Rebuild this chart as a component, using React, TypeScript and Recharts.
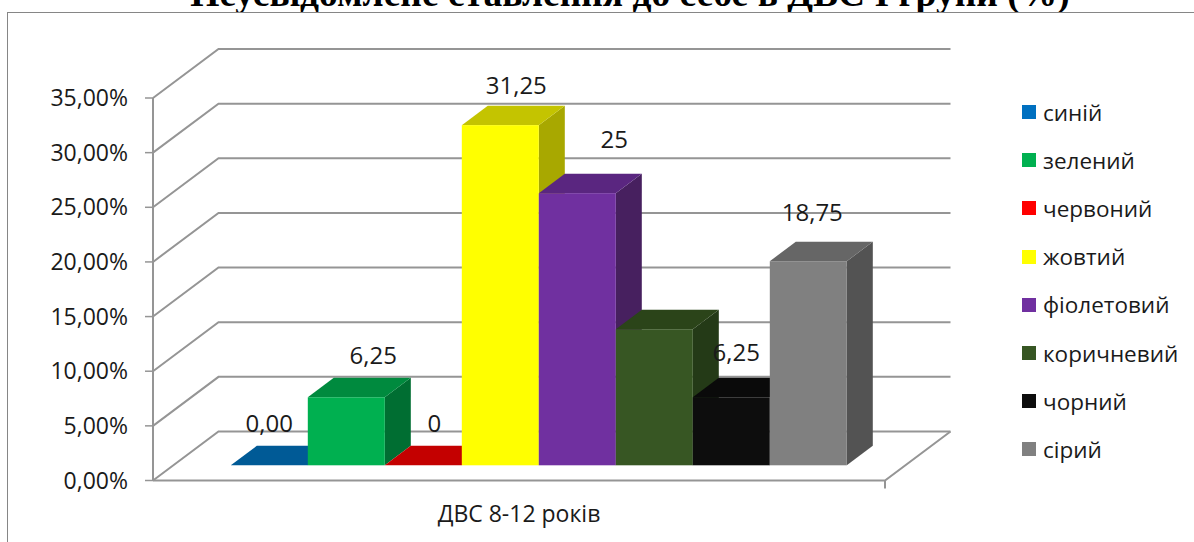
import { BarChart, Bar, XAxis, YAxis, CartesianGrid, Legend, LabelList } from 'recharts';

const CATEGORIES = ['ДВС 8-12 років'];
const SERIES_NAMES = ['синій', 'зелений', 'червоний', 'жовтий', 'фіолетовий', 'коричневий', 'чорний', 'сірий'];
const SERIES_VALUES = [0, 6.25, 0, 31.25, 25, 12.5, 6.25, 18.75];
const SERIES_LABELS = ['0,00', '6,25', '0', '31,25', '25', '', '6,25', '18,75'];
const Y_TICKS = [0, 5, 10, 15, 20, 25, 30, 35];

const FRONT_COLORS = ['#0070C0', '#00B050', '#FF0000', '#FFFF00', '#7030A0', '#375623', '#0D0D0D', '#808080'];
const TOP_COLORS = ['#005A96', '#008A3E', '#C40000', '#C4C400', '#5A2680', '#2B4419', '#0A0A0A', '#666666'];
const SIDE_COLORS = ['#004A7C', '#006E32', '#A60000', '#A8A800', '#47205F', '#243A17', '#080808', '#535353'];

// where each value label sits relative to the top centre of its bar
const LABEL_NUDGE = [[0, -43], [27, -43], [11, -43], [16, -41], [37, -55], [0, 0], [5, -46], [4, -50]];

const FONT = '"Open Sans", sans-serif';
const TEXT_SIZE = 22.5;
const AXIS_TEXT_SIZE = 23;
const VALUE_TEXT_SIZE = 24;
const GRID_COLOR = '#959595';

// depth of the whole box, and of the bars standing in the middle of its floor
const WALL_DX = 65.5;
const WALL_DY = 49;
const FLOOR_DX = 20.3;
const FLOOR_DY = 15.2;
const BAR_DX = 26;
const BAR_DY = 19.5;
const BAR_FORESHORTEN = 0.996;

const chartRow: Record<string, string | number> = { category: CATEGORIES[0] };
SERIES_NAMES.forEach((name, i) => {
  chartRow[name] = SERIES_VALUES[i];
});
const chartData = [chartRow];

const axisPercent = (v: number) => `${v.toFixed(2).replace('.', ',')}%`;

function WallLine(props: any) {
  const { x1, x2, y1, index } = props;
  const isFloor = index === 0;
  return (
    <g fill="none" stroke={GRID_COLOR} strokeWidth={2}>
      <path d={`M${x1},${y1}L${x1 + WALL_DX},${y1 - WALL_DY}L${x2 + WALL_DX},${y1 - WALL_DY}`} />
      {isFloor && (
        <path d={`M${x1},${y1}L${x2},${y1}L${x2 + WALL_DX},${y1 - WALL_DY}M${x2},${y1}v8`} />
      )}
    </g>
  );
}

function Bar3D(props: any) {
  const { x, y, width, height, seriesIndex } = props;
  const h = height * BAR_FORESHORTEN;
  const left = x + FLOOR_DX;
  const right = left + width;
  const bottom = y + height - FLOOR_DY;
  const top = bottom - h;
  return (
    <g>
      <path
        d={`M${right},${bottom}L${right + BAR_DX},${bottom - BAR_DY}L${right + BAR_DX},${top - BAR_DY}L${right},${top}Z`}
        fill={SIDE_COLORS[seriesIndex]}
      />
      <path
        d={`M${left},${top}L${left + BAR_DX},${top - BAR_DY}L${right + BAR_DX},${top - BAR_DY}L${right},${top}Z`}
        fill={TOP_COLORS[seriesIndex]}
      />
      {h > 0 && <rect x={left} y={top} width={width} height={h} fill={FRONT_COLORS[seriesIndex]} />}
    </g>
  );
}

function ValueLabel(props: any) {
  const { x, y, width, seriesIndex } = props;
  const text = SERIES_LABELS[seriesIndex];
  if (!text) return null;
  const [nx, ny] = LABEL_NUDGE[seriesIndex];
  const height = props.height ?? 0;
  const top = y + height - FLOOR_DY - height * BAR_FORESHORTEN;
  return (
    <text
      x={x + FLOOR_DX + width / 2 + nx}
      y={top + ny}
      textAnchor="middle"
      dominantBaseline="central"
      fontFamily={FONT}
      fontSize={VALUE_TEXT_SIZE}
      fill="#1A1A1A"
    >
      {text}
    </text>
  );
}

function LegendList({ payload }: any) {
  return (
    <ul style={{ listStyle: 'none', margin: 0, padding: 0, paddingLeft: 137 }}>
      {(payload ?? []).map((entry: any) => (
        <li key={entry.value} style={{ display: 'flex', alignItems: 'center', height: 48.2 }}>
          <span style={{ width: 14, height: 14, background: entry.color, marginRight: 7, flex: 'none' }} />
          <span style={{ fontFamily: FONT, fontSize: TEXT_SIZE, color: '#1A1A1A', whiteSpace: 'nowrap' }}>{entry.value}</span>
        </li>
      ))}
    </ul>
  );
}

export default function App() {
  return (
    <div style={{ position: 'absolute', left: 0, top: 0, width: 1194, height: 542, overflow: 'hidden', background: '#fff' }}>
      <div
        style={{
          position: 'absolute',
          left: 0,
          top: -25,
          width: 1260,
          textAlign: 'center',
          fontFamily: '"Liberation Serif", serif',
          fontWeight: 'bold',
          fontSize: 37.5,
          lineHeight: 1,
          color: '#000',
          whiteSpace: 'nowrap',
        }}
      >
        Неусвідомлене ставлення до себе в ДВС І групи (%)
      </div>
      <div
        style={{
          position: 'absolute',
          left: 7,
          top: 12,
          width: 1300,
          height: 700,
          background: '#fff',
          border: '1.5px solid #868686',
        }}
      />
      <BarChart
        width={1194}
        height={542}
        data={chartData}
        margin={{ top: 98, right: 0, bottom: 0, left: 0 }}
        barCategoryGap={57.5}
        barGap={0}
        style={{ position: 'absolute', left: 0, top: 0 }}
      >
        <CartesianGrid vertical={false} horizontal={(p: any) => <WallLine {...p} />} />
        <XAxis
          dataKey="category"
          height={61.5}
          axisLine={false}
          tickLine={false}
          tickMargin={19}
          tick={{ fontFamily: FONT, fontSize: AXIS_TEXT_SIZE, fill: '#1A1A1A' }}
        />
        <YAxis
          width={153}
          domain={[0, 35]}
          ticks={Y_TICKS}
          tickFormatter={axisPercent}
          tickSize={8}
          tickMargin={17}
          axisLine={{ stroke: GRID_COLOR, strokeWidth: 2 }}
          tickLine={{ stroke: GRID_COLOR, strokeWidth: 1.5 }}
          tick={{ fontFamily: FONT, fontSize: AXIS_TEXT_SIZE, fill: '#1A1A1A' }}
        />
        <Legend
          layout="vertical"
          align="right"
          verticalAlign="top"
          width={309}
          itemSorter={null}
          wrapperStyle={{ top: 88, right: 0 }}
          content={<LegendList />}
        />
        {SERIES_NAMES.map((name, i) => (
          <Bar
            key={name}
            dataKey={name}
            name={name}
            fill={FRONT_COLORS[i]}
            isAnimationActive={false}
            shape={(p: any) => <Bar3D {...p} seriesIndex={i} />}
          >
            <LabelList content={(p: any) => <ValueLabel {...p} seriesIndex={i} />} />
          </Bar>
        ))}
      </BarChart>
    </div>
  );
}
